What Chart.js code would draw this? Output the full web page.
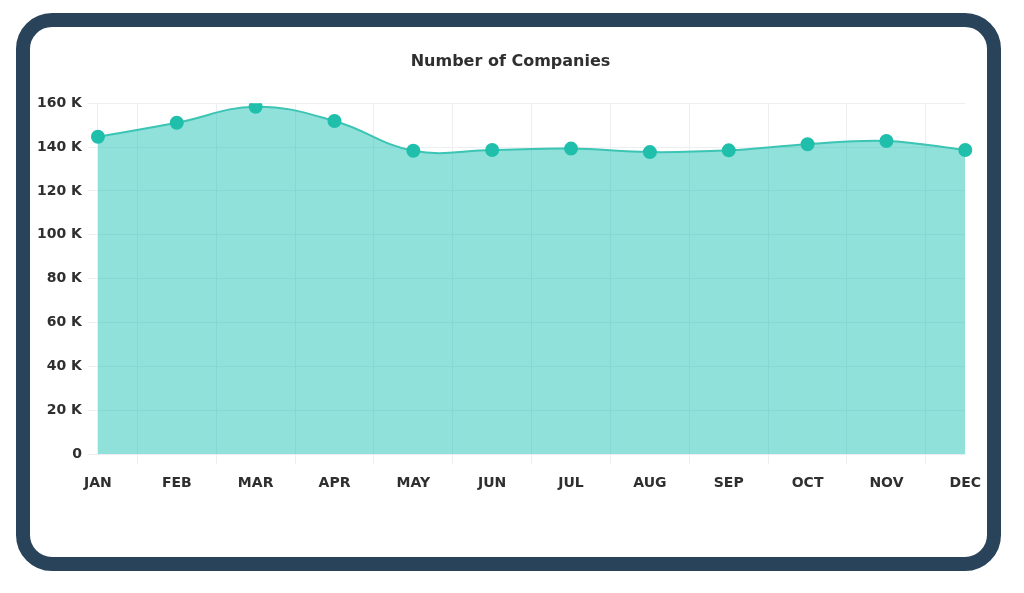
<html>
<meta name="viewport" content="width=device-width, initial-scale=1.0" />
<style>
  body { margin: 0; background: #ffffff; font-family: "DejaVu Sans", sans-serif; overflow: hidden; }
  .frame {
    position: absolute;
    left: 16px;
    top: 13px;
    width: 957px;
    height: 530px;
    border: 14px solid #28435a;
    border-radius: 36px;
    background: #ffffff;
  }
  #companiesChart {
    position: absolute;
    left: 31px;
    top: 45px;
  }
</style>
<body>
  <script src="https://cdn.jsdelivr.net/npm/chart.js@4.4.0/dist/chart.umd.min.js"></script>
  <div class="frame"></div>
  <canvas id="companiesChart" width="961" height="458"></canvas>
  <script>
    // chart data
    let monthLabels = ["JAN", "FEB", "MAR", "APR", "MAY", "JUN", "JUL", "AUG", "SEP", "OCT", "NOV", "DEC"];
    let companyCounts = [144700, 151100, 158400, 151900, 138300, 138700, 139300, 137700, 138500, 141300, 142800, 138700];

    // chart colors
    let lineColor = "#3cc4b4";
    let pointColor = "#1fbfac";
    let fillColor = "rgba(31, 196, 180, 0.5)";
    let gridColor = "#eceef2";
    let textColor = "#2f2f2f";
    let chartFont = "'DejaVu Sans', sans-serif";

    let ctx = document.getElementById("companiesChart").getContext("2d");
    new Chart(ctx, {
      type: "line",
      data: {
        labels: monthLabels,
        datasets: [
          {
            label: "Number of Companies",
            data: companyCounts,
            borderColor: lineColor,
            backgroundColor: fillColor,
            pointBackgroundColor: pointColor,
            pointBorderColor: pointColor,
            pointRadius: 6,
            borderWidth: 2,
            tension: 0.4,
            fill: true,
          },
        ],
      },
      options: {
        responsive: false,
        animation: false,
        layout: { padding: { right: 2 } },
        plugins: {
          legend: { display: false },
          tooltip: { enabled: false },
          title: {
            display: true,
            text: "Number of Companies",
            color: textColor,
            font: { family: chartFont, size: 16, weight: "bold" },
            padding: { top: 7, bottom: 32 },
          },
        },
        scales: {
          x: {
            offset: false,
            grid: { offset: true, color: gridColor, tickLength: 10 },
            border: { color: gridColor },
            ticks: {
              color: textColor,
              padding: 11,
              maxRotation: 0,
              font: { family: chartFont, size: 14, weight: "bold" },
            },
          },
          y: {
            min: 0,
            max: 160000,
            grid: { color: gridColor, tickLength: 10 },
            border: { color: gridColor },
            ticks: {
              stepSize: 20000,
              color: textColor,
              padding: 6,
              font: { family: chartFont, size: 14, weight: "bold" },
              callback: function (value) {
                return value === 0 ? "0" : value / 1000 + " K";
              },
            },
          },
        },
      },
    });
  </script>
</body>
</html>
